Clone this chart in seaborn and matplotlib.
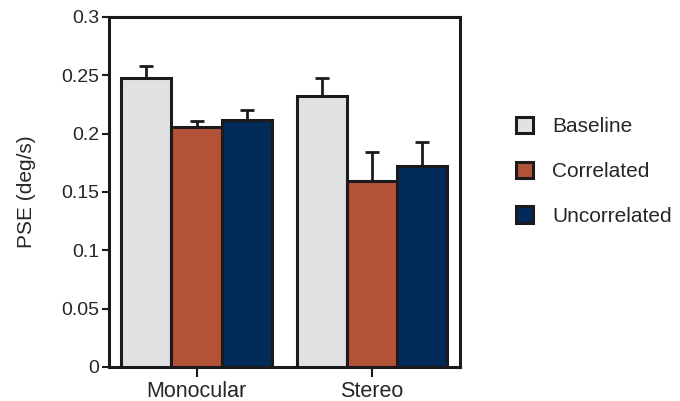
import seaborn as sns
import pandas as pd
import matplotlib.pyplot as plt
from matplotlib.patches import Patch

# values
conditions = ["Monocular", "Stereo"]
types = ["Baseline", "Correlated", "Uncorrelated"]
pse_monocular = [0.248, 0.206, 0.212]
pse_stereo = [0.232, 0.159, 0.172]
err_monocular = [0.010, 0.005, 0.008]
err_stereo = [0.016, 0.025, 0.021]
colors = ["#e1e2e4", "#b35237", "#022b5a"]
y_ticks = [0, 0.05, 0.1, 0.15, 0.2, 0.25, 0.3]
y_tick_labels = ["0", "0.05", "0.1", "0.15", "0.2", "0.25", "0.3"]


def build_frame():
    """Long-form table for seaborn"""
    rows = []
    for cond, vals, errs in [("Monocular", pse_monocular, err_monocular),
                             ("Stereo", pse_stereo, err_stereo)]:
        for t, v, e in zip(types, vals, errs):
            rows.append({"condition": cond, "type": t, "pse": v, "err": e})
    return pd.DataFrame(rows)


def main():
    df = build_frame()
    sns.set_style("ticks")
    plt.rcParams['font.family'] = ['Liberation Sans', 'DejaVu Sans']
    edge = "#1c1a1a"

    fig = plt.figure(figsize=(6.8, 4.01), dpi=100)
    ax = fig.add_axes([0.160, 0.085, 0.516, 0.873])
    sns.barplot(data=df, x="condition", y="pse", hue="type",
                order=conditions, hue_order=types, palette=colors,
                saturation=1, errorbar=None, width=0.86, edgecolor=edge,
                linewidth=2.2, legend=False, ax=ax, zorder=3)

    # upward-only error bars, placed on the bars seaborn drew
    for bar in ax.patches:
        h = bar.get_height()
        xc = bar.get_x() + bar.get_width() / 2
        match = df[(df["pse"] - h).abs() < 1e-9]
        if match.empty:
            continue
        e = match["err"].iloc[0]
        ax.errorbar(xc, h, yerr=[[0], [e]], fmt="none", ecolor=edge,
                    elinewidth=2.0, capsize=5, capthick=2.0, zorder=2)

    ax.set_xlim(-0.5, 1.5)
    ax.set_ylim(0, 0.3)
    ax.set_yticks(y_ticks, y_tick_labels)
    ax.set_xlabel("")
    ax.set_ylabel("PSE (deg/s)", fontsize=15, labelpad=18)
    for s in ax.spines.values():
        s.set_visible(True)
        s.set_linewidth(2.2)
        s.set_color(edge)
    ax.tick_params(axis="y", labelsize=14, length=5, width=1.5,
                   color=edge, pad=2)
    ax.tick_params(axis="x", labelsize=15.5, length=7, width=1.5,
                   color=edge, pad=3)

    handles = [Patch(facecolor=c, edgecolor=edge, linewidth=2.2)
               for c in colors]
    fig.legend(handles, types, loc="upper left",
               bbox_to_anchor=(0.746, 0.73), frameon=False, fontsize=15,
               handlelength=0.85, handleheight=0.85, handletextpad=0.9,
               labelspacing=1.22, borderaxespad=0)

    fig.savefig("out.png", dpi=100)


if __name__ == "__main__":
    main()
